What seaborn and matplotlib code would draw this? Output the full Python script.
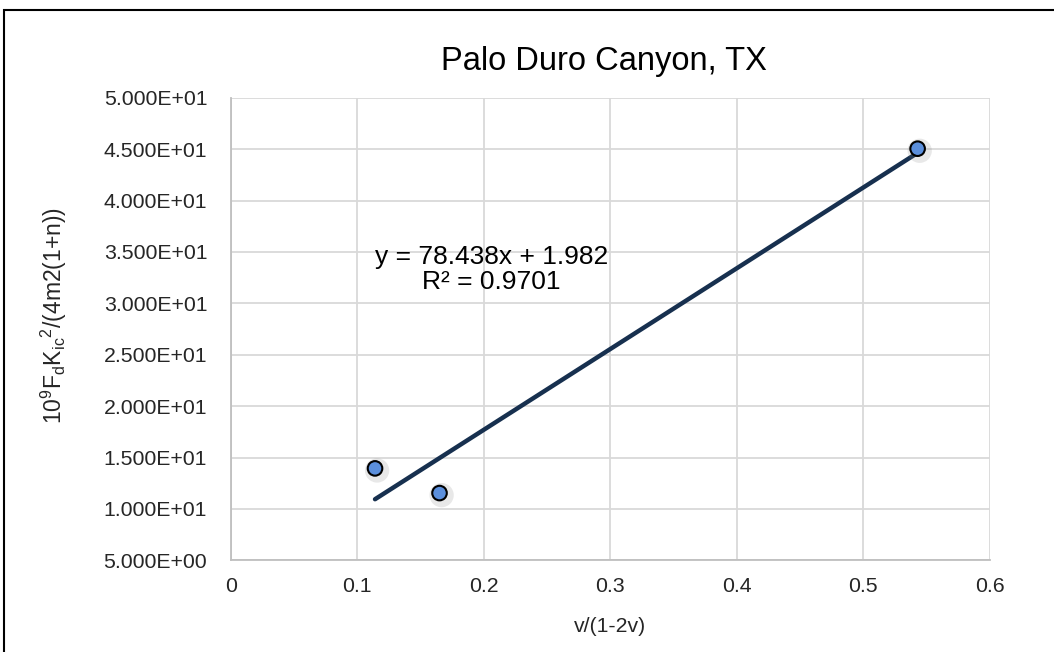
import matplotlib
matplotlib.use("Agg")
import matplotlib.pyplot as plt
import matplotlib.patheffects as pe
import seaborn as sns
import pandas as pd
import numpy as np

# Data
x_vals = [0.114, 0.165, 0.543]
y_vals = [13.95, 11.55, 45.05]
title = "Palo Duro Canyon, TX"
xlabel = "v/(1-2v)"
ylabel = r"$\mathregular{10^9F_dK_{ic}{}^2/(4m2(1{+}n))}$"
eq_text = "y = 78.438x + 1.982\nR² = 0.9701"
x_ticks = [0, 0.1, 0.2, 0.3, 0.4, 0.5, 0.6]
y_ticks = [5, 10, 15, 20, 25, 30, 35, 40, 45, 50]

sns.set_theme(style="white")
plt.rcParams['font.family'] = ['Liberation Sans', 'DejaVu Sans']
plt.rcParams['mathtext.fontset'] = 'custom'
plt.rcParams['mathtext.rm'] = 'Liberation Sans'

df = pd.DataFrame({"x": x_vals, "y": y_vals})

fig = plt.figure(figsize=(10.54, 6.52), dpi=100)
ax = fig.add_axes([0.219, 0.1405, 0.72, 0.7095])

# outer chart border
fig.patches.append(plt.Rectangle((4/1054, -0.05), 1.2, 1 - 10/652 + 0.05,
                                 transform=fig.transFigure, fill=False,
                                 edgecolor="black", linewidth=1.5, zorder=0))

sns.regplot(data=df, x="x", y="y", scatter=False, ci=None, truncate=True, ax=ax,
            line_kws=dict(color="#17304f", linewidth=3.2, solid_capstyle="round", zorder=3))
sns.scatterplot(data=df, x="x", y="y", ax=ax, s=110, color="#5b8fdc",
                edgecolor="black", linewidth=1.5, zorder=4, legend=False,
                path_effects=[pe.SimpleLineShadow(offset=(1.5, -1.5), shadow_color="gray", alpha=0.18, linewidth=7), pe.Normal()])

ax.set_xlim(0, 0.6)
ax.set_ylim(5, 50)
ax.set_xticks(x_ticks)
ax.set_xticklabels([f"{t:g}" for t in x_ticks])
ax.set_yticks(y_ticks)
ax.set_yticklabels([f"{t:.3E}" for t in y_ticks])
ax.grid(True, color="#d9d9d9", linewidth=1.3)
ax.set_axisbelow(True)
for s in ["top", "right"]:
    ax.spines[s].set_visible(False)
for s in ["left", "bottom"]:
    ax.spines[s].set_color("#bfbfbf")
    ax.spines[s].set_linewidth(1.3)
ax.tick_params(axis="both", length=0, labelsize=15.3, colors="#262626")
ax.tick_params(axis="y", pad=17)
ax.tick_params(axis="x", pad=12)

ax.set_xlabel(xlabel, fontsize=15.3, color="#262626", labelpad=15)
ax.set_ylabel(ylabel, fontsize=16.5, color="#262626")
ax.yaxis.set_label_coords(-0.213, 0.53)
fig.text(0.573, 0.906, title, fontsize=23.5, ha="center", va="center", color="black")
ax.text(0.206, 33.3, eq_text, fontsize=19, ha="center", va="center",
        color="black", linespacing=1.05)

fig.savefig("out.png", dpi=100)
